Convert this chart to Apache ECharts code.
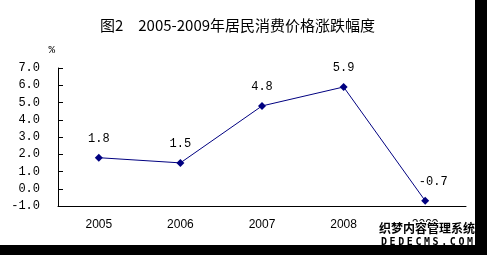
<!DOCTYPE html>
<html><head><meta charset="utf-8">
<script src="https://cdn.jsdelivr.net/npm/echarts@6/dist/echarts.min.js"></script>
<style>html,body{margin:0;padding:0;background:#000;width:487px;height:255px;overflow:hidden}#c{width:475px;height:245px;background:#fff}</style>
</head><body><div id="c"></div>
<script>
var categories = ['2005','2006','2007','2008','2009'];
var values = [1.8, 1.5, 4.8, 5.9, -0.7];
var watermark1 = '织梦内容管理系统';
var watermark2 = 'DEDECMS.COM';
var chart = echarts.init(document.getElementById('c'));
var graphics = [
  {type: 'text', left: 378, top: 221, z: 100, style: {text: watermark1, fontSize: 12, fontWeight: 'bold', fill: '#000', stroke: '#fff', lineWidth: 2, fontFamily: 'Noto Sans CJK SC'}}
];
watermark2.split('').forEach(function(ch, i){
  graphics.push({type: 'text', left: 380 + i * 8.6, top: 236, z: 100,
    style: {text: ch, fontSize: 10, fontWeight: 'bold', fill: '#000', stroke: '#fff', lineWidth: 2, fontFamily: 'DejaVu Sans Mono'}});
});
chart.setOption({
  animation: false,
  title: {text: '图2　2005-2009年居民消费价格涨跌幅度', left: 'center', top: 13,
    textStyle: {fontSize: 15, fontWeight: 'normal', color: '#000', fontFamily: 'Noto Sans CJK SC'}},
  grid: {left: 58, right: 9, top: 68, bottom: 39},
  xAxis: {type: 'category', data: categories, boundaryGap: true,
    axisLine: {onZero: false, lineStyle: {color: '#000', width: 1}},
    axisTick: {inside: true, length: 5, lineStyle: {color: '#000'}},
    axisLabel: {color: '#000', fontSize: 12, fontFamily: 'Liberation Sans', margin: 13}},
  yAxis: {type: 'value', min: -1, max: 7, interval: 1, name: '%', nameLocation: 'end',
    nameGap: 12, nameTextStyle: {color: '#000', fontSize: 11, align: 'right', padding: [0, 3, 0, 0], fontFamily: 'Liberation Mono'},
    splitLine: {show: false},
    axisLine: {show: true, lineStyle: {color: '#000', width: 1}},
    axisTick: {show: true, inside: true, length: 5, lineStyle: {color: '#000'}},
    axisLabel: {color: '#000', fontSize: 12, fontFamily: 'Liberation Mono', margin: 18,
      formatter: function(v){ return v.toFixed(1); }}},
  series: [{type: 'line', data: values, symbol: 'diamond', symbolSize: 8,
    lineStyle: {color: '#000080', width: 1}, itemStyle: {color: '#000080'},
    label: {show: true, position: 'top', distance: 9, color: '#000', fontSize: 12, fontFamily: 'Liberation Mono',
      formatter: function(p){ return p.value.toFixed(1); }},
    labelLayout: function(p){ return p.dataIndex === 4 ? {dx: 8} : {}; }}],
  graphic: graphics
});
</script></body></html>
